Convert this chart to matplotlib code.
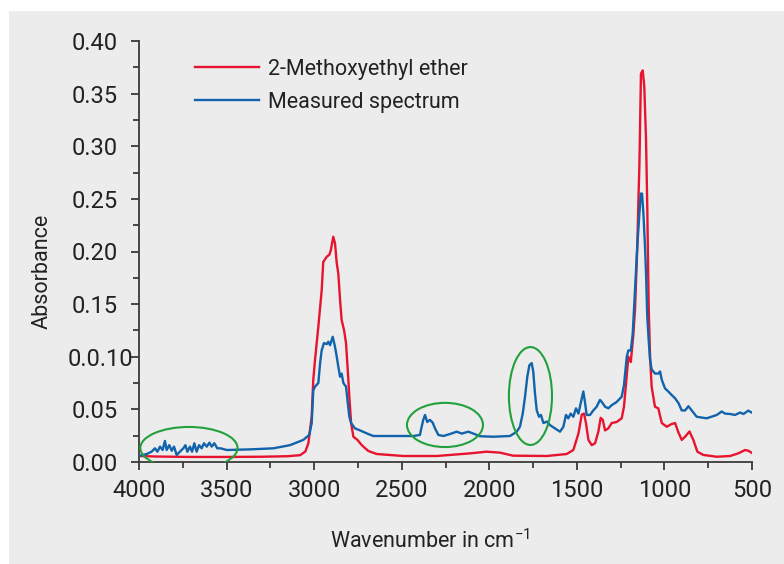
import numpy as np
import matplotlib
matplotlib.use("Agg")
import matplotlib.pyplot as plt
from matplotlib.patches import Ellipse, Rectangle
from matplotlib.transforms import ScaledTranslation

plt.rcParams['font.family'] = ['Roboto', 'DejaVu Sans']
plt.rcParams['mathtext.fontset'] = 'custom'
plt.rcParams['mathtext.rm'] = 'Roboto'

# Reference spectrum: 2-Methoxyethyl ether (wavenumber in cm-1, absorbance)
ref_wn = [4000, 3900, 3700, 3500, 3300, 3150, 3080, 3050, 3033, 3014, 3005, 2995,
          2976, 2957, 2948, 2928, 2913, 2905, 2891, 2881, 2871, 2862, 2852, 2843,
          2829, 2818, 2808, 2799, 2789, 2776, 2753, 2728, 2691, 2643, 2491, 2300,
          2110, 2015, 1939, 1864, 1672, 1558, 1520, 1491, 1472, 1459, 1448, 1434,
          1415, 1396, 1377, 1364, 1352, 1339, 1320, 1301, 1273, 1244, 1231, 1219,
          1206, 1192, 1177, 1168, 1155, 1147, 1143, 1134, 1124, 1115, 1105, 1098,
          1090, 1082, 1073, 1054, 1035, 1015, 987, 960, 939, 920, 901, 882, 857,
          835, 812, 778, 701, 625, 578, 540, 521, 502]
ref_abs = [0.0057, 0.0052, 0.0048, 0.0048, 0.0050, 0.0055, 0.0065, 0.0100, 0.0178,
           0.043, 0.078, 0.097, 0.1286, 0.163, 0.190, 0.195, 0.197, 0.201, 0.214,
           0.208, 0.189, 0.179, 0.154, 0.135, 0.125, 0.113, 0.087, 0.062, 0.037,
           0.024, 0.021, 0.016, 0.0105, 0.0076, 0.0057, 0.0057, 0.0082, 0.0098,
           0.0089, 0.0060, 0.0057, 0.0076, 0.0114, 0.027, 0.045, 0.046, 0.037,
           0.021, 0.016, 0.0178, 0.029, 0.042, 0.040, 0.030, 0.032, 0.037, 0.038,
           0.0415, 0.0525, 0.075, 0.100, 0.095, 0.122, 0.145, 0.205, 0.258, 0.281,
           0.369, 0.372, 0.357, 0.306, 0.243, 0.148, 0.100, 0.0715, 0.0525, 0.051,
           0.037, 0.0335, 0.036, 0.037, 0.028, 0.021, 0.024, 0.029, 0.021, 0.0098,
           0.0067, 0.0050, 0.0057, 0.0082, 0.0114, 0.0107, 0.0088]

# Measured spectrum
meas_wn = [4000, 3956, 3928, 3909, 3895, 3880, 3865, 3852, 3842, 3827, 3813, 3800,
           3785, 3766, 3747, 3735, 3724, 3709, 3697, 3684, 3671, 3657, 3642, 3629,
           3613, 3598, 3585, 3570, 3553, 3534, 3499, 3366, 3233, 3138, 3062, 3028,
           3014, 3005, 2995, 2976, 2966, 2957, 2944, 2928, 2919, 2909, 2894, 2881,
           2871, 2862, 2852, 2843, 2833, 2818, 2808, 2799, 2789, 2767, 2738, 2691,
           2662, 2586, 2434, 2396, 2386, 2377, 2367, 2354, 2339, 2323, 2310, 2291,
           2262, 2224, 2186, 2157, 2120, 2091, 2053, 1977, 1882, 1843, 1825, 1809,
           1796, 1783, 1771, 1758, 1749, 1739, 1729, 1716, 1705, 1691, 1672, 1653,
           1625, 1596, 1577, 1562, 1549, 1535, 1520, 1505, 1491, 1478, 1463, 1453,
           1444, 1425, 1406, 1387, 1368, 1353, 1339, 1320, 1301, 1273, 1244, 1231,
           1215, 1206, 1192, 1181, 1168, 1155, 1143, 1135, 1128, 1120, 1111, 1105,
           1098, 1090, 1082, 1073, 1054, 1035, 1025, 1015, 997, 978, 959, 939, 920,
           901, 882, 863, 844, 816, 759, 701, 673, 654, 625, 597, 568, 549, 521, 502]
meas_abs = [0.0057, 0.0076, 0.0098, 0.013, 0.0098, 0.0146, 0.0114, 0.020, 0.0114,
            0.016, 0.0107, 0.0146, 0.0067, 0.0098, 0.013, 0.016, 0.0098, 0.0146,
            0.0098, 0.0178, 0.0098, 0.016, 0.013, 0.0178, 0.0146, 0.0184, 0.0146,
            0.0178, 0.013, 0.013, 0.0114, 0.012, 0.013, 0.016, 0.021, 0.0257, 0.037,
            0.068, 0.0716, 0.075, 0.094, 0.106, 0.113, 0.112, 0.1143, 0.111, 0.119,
            0.1096, 0.100, 0.0906, 0.081, 0.084, 0.075, 0.0716, 0.056, 0.043, 0.037,
            0.032, 0.030, 0.0266, 0.0247, 0.0247, 0.0247, 0.0257, 0.0335, 0.040,
            0.0447, 0.038, 0.040, 0.0374, 0.032, 0.0257, 0.0247, 0.0266, 0.0288,
            0.027, 0.0288, 0.027, 0.0245, 0.024, 0.0247, 0.0288, 0.0335, 0.046,
            0.062, 0.081, 0.092, 0.094, 0.086, 0.065, 0.049, 0.043, 0.0447, 0.037,
            0.0384, 0.035, 0.032, 0.0288, 0.0335, 0.0447, 0.0415, 0.046, 0.043,
            0.051, 0.046, 0.056, 0.067, 0.056, 0.0447, 0.0447, 0.049, 0.0525, 0.059,
            0.056, 0.0525, 0.051, 0.054, 0.057, 0.062, 0.073, 0.100, 0.106, 0.106,
            0.122, 0.163, 0.205, 0.236, 0.255, 0.255, 0.236, 0.205, 0.179, 0.138,
            0.116, 0.097, 0.088, 0.084, 0.084, 0.086, 0.078, 0.070, 0.067, 0.0637,
            0.0605, 0.056, 0.049, 0.049, 0.053, 0.049, 0.043, 0.0415, 0.0447, 0.048,
            0.046, 0.0456, 0.0447, 0.047, 0.0456, 0.0488, 0.047]

# highlighted regions: (centre wavenumber, centre absorbance, width, height)
highlights = [(3715, 0.0133, 555, 0.040),
              (2253, 0.0352, 434, 0.042),
              (1765, 0.0627, 246, 0.093)]

x_ticks = [4000, 3500, 3000, 2500, 2000, 1500, 1000, 500]
y_ticks = [0.00, 0.05, 0.10, 0.15, 0.20, 0.25, 0.30, 0.35, 0.40]
y_labels = ['0.00', '0.05', '0.0.10', '0.15', '0.20', '0.25', '0.30', '0.35', '0.40']

W, H = 784, 564
fig = plt.figure(figsize=(W / 100, H / 100), dpi=100)
fig.patch.set_facecolor('white')
fig.patches.append(Rectangle((9 / W, 0), 1 - 9 / W, 1 - 11 / H, transform=fig.transFigure,
                             facecolor='#ececec', edgecolor='none', zorder=-10))

ax = fig.add_axes([139 / W, 1 - 462 / H, 613 / W, 421 / H])
ax.patch.set_alpha(0)

ax.plot(ref_wn, ref_abs, color='#e8132e', lw=1.7, label='2-Methoxyethyl ether', zorder=3)
ax.plot(meas_wn, meas_abs, color='#1163ab', lw=1.7, label='Measured spectrum', zorder=4)

for cx, cy, w, h in highlights:
    ax.add_patch(Ellipse((cx, cy), w, h, fill=False, edgecolor='#22a03c', lw=1.5, zorder=5))

ax.set_xlim(4000, 500)
ax.set_ylim(0, 0.40)
ax.set_xticks(x_ticks)
ax.set_xticklabels([str(t) for t in x_ticks])
ax.set_xticks(np.arange(4000, 499, -250), minor=True)
ax.set_yticks(y_ticks)
ax.set_yticklabels(y_labels)
ax.set_yticks(np.arange(0, 0.401, 0.025), minor=True)

for s in ['top', 'right']:
    ax.spines[s].set_visible(False)
for s in ['left', 'bottom']:
    ax.spines[s].set_color('#3a3a3a')
    ax.spines[s].set_linewidth(1.3)

ax.tick_params(axis='both', which='both', direction='out', color='#3a3a3a', width=1.3,
               labelcolor='#222222', labelsize=17)
ax.tick_params(axis='y', which='major', length=6, pad=9)
ax.tick_params(axis='y', which='minor', length=4)
ax.tick_params(axis='x', which='major', length=6, pad=6)
ax.tick_params(axis='x', which='minor', length=4)

# the odd "0.0.10" label sits further right in the original
lab = ax.get_yticklabels()[2]
lab.set_transform(lab.get_transform() + ScaledTranslation(15 / 100, 0, fig.dpi_scale_trans))

fig.text(430 / W, 1 - 541 / H, 'Wavenumber in cm$^{\\mathregular{-1}}$', ha='center', va='center',
         fontsize=15.5, color='#222222')
fig.text(42 / W, 1 - 271 / H, 'Absorbance', ha='center', va='center', rotation=90,
         fontsize=15.5, color='#222222')

ax.legend(loc='upper left', bbox_to_anchor=(184 / W, 1 - 48 / H), bbox_transform=fig.transFigure,
          frameon=False, fontsize=15.5, handlelength=3.0, handletextpad=0.4,
          labelspacing=0.55, borderpad=0, labelcolor='#222222')

fig.savefig('out.png', dpi=100, facecolor=fig.get_facecolor())
